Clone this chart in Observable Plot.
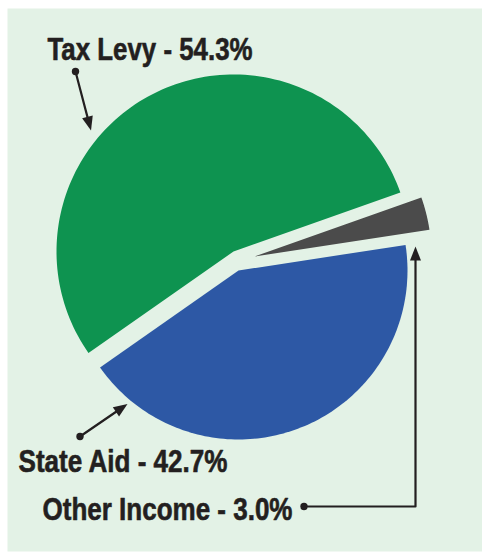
<!DOCTYPE html>
<html>
<head>
<meta charset="utf-8">
<script src="https://cdn.jsdelivr.net/npm/d3@7"></script>
<script src="https://cdn.jsdelivr.net/npm/@observablehq/plot@0.6"></script>
<style>
  html, body { margin: 0; padding: 0; background: #ffffff; }
  #chart svg { display: block; }
</style>
</head>
<body>
<div id="chart"></div>
<script>
// ---- Data ----
const categories = ["Other Income", "State Aid", "Tax Levy"];
const shares = [3.0, 42.7, 54.3];
const labels = ["Other Income - 3.0%", "State Aid - 42.7%", "Tax Levy - 54.3%"];
const colors = ["#4b4b4b", "#2d58a5", "#0e9350"];

// ---- Layout (pixels) ----
const W = 482, H = 552;
const startDeg = 70.5;
// exploded slice centres and radii
const sliceGeom = {
  "Other Income": {cx: 254, cy: 256, r: 177},
  "State Aid":    {cx: 238, cy: 270, r: 169},
  "Tax Levy":     {cx: 233, cy: 251, r: 177}
};
// label anchors (baseline left) and rendered widths
const labelPos = {
  "Tax Levy":     {x: 47, y: 59.5, w: 205},
  "State Aid":    {x: 18, y: 471.5, w: 209},
  "Other Income": {x: 42, y: 519.5, w: 250}
};
// leader lines: list of points, last point is arrow tip
const leaders = {
  "Tax Levy":     [[75, 71], [90.5, 130]],
  "State Aid":    [[79.5, 436], [127, 403.5]],
  "Other Income": [[303.5, 506], [415, 506], [415, 246]]
};

// ---- Build slice polygons with d3.pie ----
const rad = Math.PI / 180;
const pie = d3.pie().sort(null).value(d => d.share)
  .startAngle(startDeg * rad).endAngle((startDeg + 360) * rad);
const arcs = pie(categories.map((c, i) => ({cat: c, share: shares[i]})));
const slicePts = [];
for (const a of arcs) {
  const g = sliceGeom[a.data.cat];
  slicePts.push({cat: a.data.cat, x: g.cx, y: g.cy});
  const n = 120;
  for (let k = 0; k <= n; k++) {
    const t = a.startAngle + (a.endAngle - a.startAngle) * k / n;
    slicePts.push({cat: a.data.cat, x: g.cx + g.r * Math.sin(t), y: g.cy - g.r * Math.cos(t)});
  }
  slicePts.push({cat: a.data.cat, x: g.cx, y: g.cy});
}

// ---- Leader geometry ----
const headLen = 14, headHalf = 5.5;
const linePts = [], headPts = [], dotPts = [];
for (const c of categories) {
  const pts = leaders[c];
  const tip = pts[pts.length - 1], prev = pts[pts.length - 2];
  const dx = tip[0] - prev[0], dy = tip[1] - prev[1];
  const L = Math.hypot(dx, dy), ux = dx / L, uy = dy / L;
  const bx = tip[0] - ux * headLen, by = tip[1] - uy * headLen;
  pts.forEach((p, i) => {
    const q = i === pts.length - 1 ? [bx + ux * 2, by + uy * 2] : p;
    linePts.push({cat: c, x: q[0], y: q[1]});
  });
  headPts.push({cat: c, x: tip[0], y: tip[1]});
  headPts.push({cat: c, x: bx - uy * headHalf, y: by + ux * headHalf});
  headPts.push({cat: c, x: bx + uy * headHalf, y: by - ux * headHalf});
  dotPts.push({cat: c, x: pts[0][0], y: pts[0][1]});
}

const labelData = categories.map((c, i) => ({cat: c, text: labels[i], ...labelPos[c]}));

const ink = "#231f20";
const font = "'Liberation Sans', Arial, sans-serif";

const chart = Plot.plot({
  width: W,
  height: H,
  margin: 0,
  x: {domain: [0, W], range: [0, W], axis: null},
  y: {domain: [0, H], range: [0, H], axis: null},
  color: {domain: categories, range: colors},
  marks: [
    Plot.frame({fill: "#e3f2e6", stroke: null, insetLeft: 7, insetTop: 8, insetBottom: 1}),
    Plot.line(slicePts, {x: "x", y: "y", z: "cat", fill: "cat", stroke: null, curve: "linear"}),
    Plot.line(linePts, {x: "x", y: "y", z: "cat", stroke: ink, strokeWidth: 2.2}),
    Plot.line(headPts, {x: "x", y: "y", z: "cat", fill: ink, stroke: null}),
    Plot.dot(dotPts, {x: "x", y: "y", r: 3.7, fill: ink, stroke: null}),
    Plot.text(labelData, {
      x: "x", y: "y", text: "text",
      textAnchor: "start", lineAnchor: "bottom",
      fontSize: 31, fontWeight: "bold", fontFamily: font, fill: ink,
      stroke: ink, strokeWidth: 0.6
    })
  ]
});
// compress labels horizontally to the condensed width of the original typeface
const widthByText = new Map(labelData.map(d => [d.text, d.w]));
chart.querySelectorAll("text").forEach(t => {
  const w = widthByText.get(t.textContent);
  if (w) {
    t.setAttribute("textLength", w);
    t.setAttribute("lengthAdjust", "spacingAndGlyphs");
  }
});
document.getElementById("chart").appendChild(chart);
</script>
</body>
</html>
